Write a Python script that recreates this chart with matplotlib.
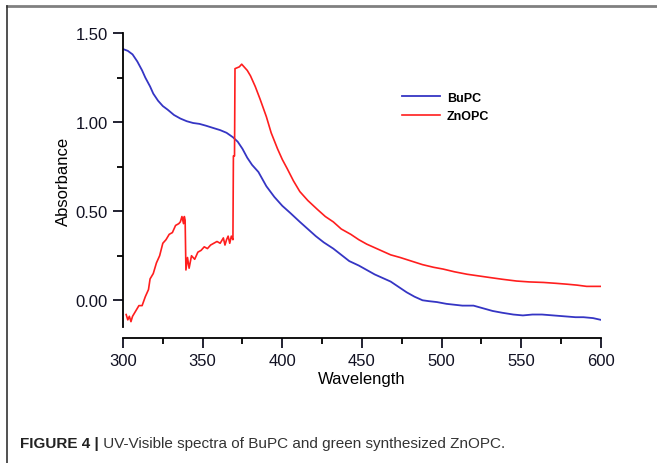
import matplotlib
matplotlib.use('Agg')
import matplotlib.pyplot as plt
from matplotlib.lines import Line2D
from matplotlib import font_manager

# values
bupc_wl = [300, 303, 306, 309, 312, 314, 317, 319, 322, 325, 328, 332, 336, 340, 344,
           348, 352, 357, 361, 365, 369, 372, 375, 378, 381, 385, 390, 395, 400, 405,
           411, 416, 421, 426, 432, 437, 442, 448, 453, 458, 463, 468, 473, 478, 483,
           488, 492, 497, 503, 508, 513, 520, 526, 532, 538, 545, 551, 557, 563, 570,
           577, 584, 589, 595, 600]
bupc_abs = [1.41, 1.40, 1.38, 1.34, 1.29, 1.25, 1.20, 1.16, 1.12, 1.09, 1.07, 1.04, 1.02,
            1.005, 0.995, 0.99, 0.98, 0.966, 0.955, 0.94, 0.915, 0.89, 0.85, 0.80, 0.76,
            0.72, 0.64, 0.58, 0.53, 0.49, 0.44, 0.40, 0.36, 0.325, 0.29, 0.255, 0.22,
            0.195, 0.17, 0.145, 0.125, 0.105, 0.075, 0.045, 0.02, 0.00, -0.005, -0.01,
            -0.02, -0.025, -0.03, -0.03, -0.045, -0.06, -0.07, -0.08, -0.085, -0.08,
            -0.08, -0.085, -0.09, -0.095, -0.095, -0.10, -0.11]

znopc_wl = [302, 303, 304, 305, 306, 308, 310, 312, 314, 316, 317, 319, 321, 323, 325,
            327, 329, 331, 333, 335, 336, 337, 338, 338.5, 339, 339.5, 340.5, 341.5, 343,
            345, 347, 349, 351, 353, 355, 357, 359, 361, 363, 364, 365, 366, 367, 368,
            369, 369.3, 370, 370.3, 373, 374.5, 376, 378, 380, 383, 386, 390, 393, 397,
            400, 403, 407, 411, 416, 422, 427, 432, 437, 443, 448, 453, 458, 463, 468,
            474, 481, 488, 495, 501, 508, 516, 523, 530, 538, 547, 555, 564, 572, 579,
            585, 591, 600]
znopc_abs = [-0.08, -0.11, -0.09, -0.12, -0.09, -0.06, -0.03, -0.03, 0.02, 0.06, 0.12,
             0.15, 0.21, 0.25, 0.32, 0.34, 0.37, 0.38, 0.42, 0.43, 0.44, 0.47, 0.43, 0.47,
             0.45, 0.17, 0.24, 0.18, 0.25, 0.23, 0.27, 0.28, 0.30, 0.29, 0.31, 0.32, 0.33,
             0.32, 0.35, 0.31, 0.34, 0.36, 0.32, 0.36, 0.34, 0.81, 0.81, 1.30, 1.31, 1.325,
             1.31, 1.29, 1.26, 1.20, 1.13, 1.03, 0.94, 0.85, 0.79, 0.74, 0.67, 0.61, 0.56,
             0.51, 0.47, 0.44, 0.40, 0.37, 0.34, 0.315, 0.295, 0.275, 0.255, 0.24, 0.22,
             0.20, 0.185, 0.175, 0.16, 0.146, 0.137, 0.128, 0.118, 0.108, 0.103, 0.10,
             0.095, 0.09, 0.085, 0.078, 0.078]

x_ticks = [300, 350, 400, 450, 500, 550, 600]
y_ticks = [0.0, 0.5, 1.0, 1.5]
caption_bold = 'FIGURE 4 |'
caption_text = ' UV-Visible spectra of BuPC and green synthesized ZnOPC.'

plt.rcParams['font.family'] = ['Liberation Sans', 'DejaVu Sans']

# a condensed face for the caption if one is installed
cap_kw = dict(family='Liberation Sans', fontsize=11)
for f in font_manager.fontManager.ttflist:
    if f.name == 'Liberation Sans Narrow':
        cap_kw = dict(family='Liberation Sans Narrow', fontsize=13)
        break

fig = plt.figure(figsize=(6.57, 4.64), dpi=100)
ax = fig.add_axes([0.1872, 0.2931, 0.7275, 0.6336])

ax.plot(bupc_wl, bupc_abs, color='#3535c4', lw=1.3, label='BuPC')
ax.plot(znopc_wl, znopc_abs, color='#ff1e1e', lw=1.2, label='ZnOPC')

ax.set_xlim(300, 600)
ax.set_ylim(-0.15, 1.5)
ax.set_xticks(x_ticks)
ax.set_xticks([325, 375, 425, 475, 525, 575], minor=True)
ax.set_yticks(y_ticks)
ax.set_yticks([0.25, 0.75, 1.25], minor=True)
ax.set_yticklabels(['%.2f' % v for v in y_ticks])

for s in ['top', 'right']:
    ax.spines[s].set_visible(False)
ax.spines['bottom'].set_position(('outward', 8))
for s in ['left', 'bottom']:
    ax.spines[s].set_linewidth(1.3)
ax.tick_params(which='major', length=7, width=1.3, labelsize=12, pad=4, colors='#111122')
ax.tick_params(which='minor', length=4, width=1.3)

ax.set_xlabel('Wavelength', fontsize=12, labelpad=2)
ax.set_ylabel('Absorbance', fontsize=12, labelpad=3)

ax.legend(loc='upper left', bbox_to_anchor=(0.584, 0.80), frameon=False,
          prop={'weight': 'bold', 'size': 9}, handlelength=3.0, handletextpad=0.6,
          labelspacing=0.5, borderpad=0, borderaxespad=0)

# page frame lines
fig.add_artist(Line2D([7 / 657, 1], [1 - 7 / 464, 1 - 7 / 464], color='#808080', lw=2))
fig.add_artist(Line2D([7 / 657, 7 / 657], [0, 1 - 7 / 464], color='#333333', lw=1.2))

t1 = fig.text(20 / 657, 1 - 448 / 464, caption_bold, fontweight='bold',
              color='#222222', va='baseline', **cap_kw)
fig.canvas.draw()
bb = t1.get_window_extent()
fig.text(bb.x1 / 657, 1 - 448 / 464, caption_text, color='#333333',
         va='baseline', **cap_kw)

fig.savefig('out.png', dpi=100)
